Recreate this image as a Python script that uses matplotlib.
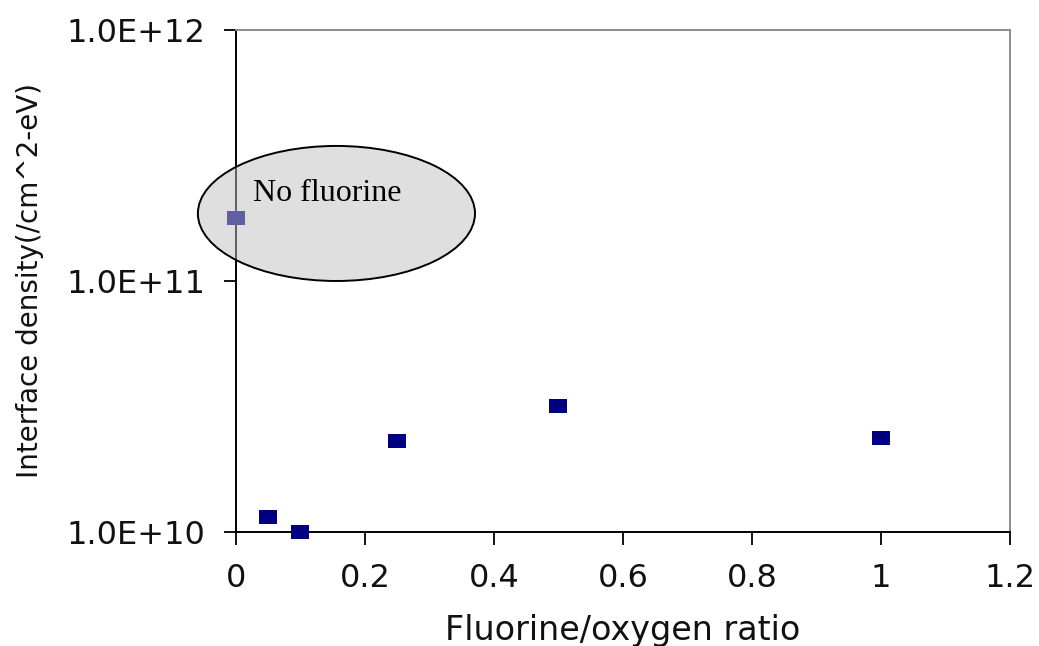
import matplotlib
matplotlib.use('Agg')
from matplotlib import pyplot as plt
from matplotlib.patches import Ellipse
from matplotlib.ticker import FixedLocator, FixedFormatter

# fluorine/oxygen ratio vs. interface trap density
ratio = [0.0, 0.05, 0.1, 0.25, 0.5, 1.0]
dit = [1.78e11, 1.15e10, 1.0e10, 2.30e10, 3.19e10, 2.37e10]

xticks = [0, 0.2, 0.4, 0.6, 0.8, 1, 1.2]
xticklabels = ['0', '0.2', '0.4', '0.6', '0.8', '1', '1.2']
yticks = [1e10, 1e11, 1e12]
yticklabels = ['1.0E+10', '1.0E+11', '1.0E+12']


def main():
    plt.rcParams['font.family'] = ['DejaVu Sans']
    fig = plt.figure(figsize=(10.39, 6.46), dpi=100)
    ax = fig.add_axes([0.2271, 0.1765, 0.7450, 0.7771])

    # slightly wide square markers
    box = [(-1.28, -1), (1.28, -1), (1.28, 1), (-1.28, 1), (-1.28, -1)]
    ax.plot(ratio, dit, linestyle='none', marker=box, markersize=13,
            color='#000080', markeredgewidth=0, clip_on=False, zorder=3)

    ax.set_yscale('log')
    ax.set_xlim(0, 1.2)
    ax.set_ylim(1e10, 1e12)
    ax.xaxis.set_major_locator(FixedLocator(xticks))
    ax.xaxis.set_major_formatter(FixedFormatter(xticklabels))
    ax.yaxis.set_major_locator(FixedLocator(yticks))
    ax.yaxis.set_major_formatter(FixedFormatter(yticklabels))
    ax.yaxis.set_minor_locator(FixedLocator([]))

    ax.tick_params(axis='both', direction='out', length=9, width=1.3,
                   labelsize=23, color='black', labelcolor='#111111')
    ax.tick_params(axis='x', pad=13)
    ax.tick_params(axis='y', pad=13)

    for side in ('left', 'bottom'):
        ax.spines[side].set_color('black')
        ax.spines[side].set_linewidth(1.4)
    for side in ('top', 'right'):
        ax.spines[side].set_color('#8c8c8c')
        ax.spines[side].set_linewidth(1.4)

    ax.set_xlabel('Fluorine/oxygen ratio', fontsize=24, labelpad=15,
                  color='#111111')
    ax.set_ylabel('Interface density(/cm^2-eV)', fontsize=20, labelpad=16,
                  color='#111111')

    # translucent callout over the untreated sample
    shade = Ellipse((0.1298, 0.6345), 0.358, 0.269, transform=ax.transAxes,
                    facecolor='#c0c0c0', edgecolor='none', alpha=0.5,
                    clip_on=False, zorder=4)
    rim = Ellipse((0.1298, 0.6345), 0.358, 0.269, transform=ax.transAxes,
                  fill=False, edgecolor='black', linewidth=1.4,
                  clip_on=False, zorder=5)
    ax.add_patch(shade)
    ax.add_patch(rim)
    ax.text(0.022, 0.675, 'No fluorine', transform=ax.transAxes,
            fontsize=23, family='Liberation Serif', va='center', ha='left',
            zorder=6)

    plt.savefig('out.png', dpi=100)


if __name__ == '__main__':
    main()
